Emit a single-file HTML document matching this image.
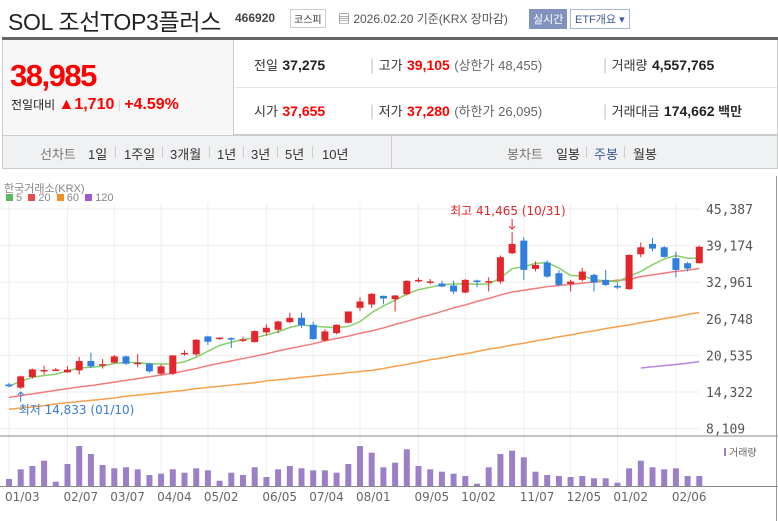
<!DOCTYPE html>
<html><head><meta charset="utf-8">
<style>
*{margin:0;padding:0;box-sizing:border-box}
body{width:778px;height:521px;background:#fff;font-family:"Liberation Sans","Noto Sans CJK KR",sans-serif;position:relative;overflow:hidden;color:#333}
.abs{position:absolute;white-space:nowrap}
.lbl{font-size:13px;color:#333}
.val{font-size:14px;font-weight:bold;color:#222}
.sub{font-size:13px;color:#666}
.sep{color:#ccc}
.nv{position:absolute;top:144px;font-size:13px;color:#333;white-space:nowrap}
.nd{position:absolute;top:146px;width:1px;height:12px;background:#ccc}
</style></head><body>
<div class="abs" style="left:8px;top:3px;font-size:23px;color:#222;letter-spacing:-0.3px">SOL 조선TOP3플러스</div>
<div class="abs" style="left:235px;top:11px;font-size:12px;font-weight:bold;color:#444">466920</div>
<div class="abs" style="left:290px;top:9px;font-size:10px;border:1px solid #ccc;padding:1px 3px;color:#333">코스피</div>
<div class="abs" style="left:338px;top:10px;font-size:12px;color:#555">▤ 2026.02.20 기준(KRX 장마감)</div>
<div class="abs" style="left:529px;top:9px;font-size:11px;background:#8092bd;color:#fff;padding:2px 4px">실시간</div>
<div class="abs" style="left:570px;top:9px;font-size:11px;border:1px solid #a9b7d9;color:#3d5a99;padding:1px 4px">ETF개요 ▾</div>
<div class="abs" style="left:2px;top:37px;width:776px;height:3px;background:#666"></div>
<div class="abs" style="left:2px;top:40px;width:776px;height:95px;border-bottom:1px solid #ccc;border-right:1px solid #ccc"></div>
<div class="abs" style="left:2px;top:40px;width:232px;height:95px;background:#f7f7f7;border-right:1px solid #ccc;border-left:1px solid #ccc"></div>
<div class="abs" style="left:10px;top:58px;font-size:31px;font-weight:bold;color:#f00;letter-spacing:-1.5px">38,985</div>
<div class="abs" style="left:11px;top:96px;font-size:12px;color:#222">전일대비 <span style="color:#f00;font-size:16px;font-weight:bold">▲1,710</span> <span class="sep">|</span> <span style="color:#f00;font-size:16px;font-weight:bold">+4.59%</span></div>
<div class="abs" style="left:235px;top:87px;width:542px;height:1px;background:#e5e5e5"></div>
<div class="abs" style="left:254px;top:55px"><span class="lbl">전일</span> <span class="val">37,275</span></div>
<div class="abs" style="left:254px;top:101px"><span class="lbl">시가</span> <span class="val" style="color:#f00">37,655</span></div>
<div class="abs" style="left:370px;top:55px"><span class="sep">|</span> <span class="lbl">고가</span> <span class="val" style="color:#f00">39,105</span> <span class="sub">(상한가 48,455)</span></div>
<div class="abs" style="left:370px;top:101px"><span class="sep">|</span> <span class="lbl">저가</span> <span class="val" style="color:#f00">37,280</span> <span class="sub">(하한가 26,095)</span></div>
<div class="abs" style="left:603px;top:55px"><span class="sep">|</span> <span class="lbl">거래량</span> <span class="val">4,557,765</span></div>
<div class="abs" style="left:603px;top:101px"><span class="sep">|</span> <span class="lbl">거래대금</span> <span class="val">174,662</span><span class="lbl" style="font-weight:bold"> 백만</span></div>
<div class="abs" style="left:2px;top:135px;width:776px;height:34px;background:#f0f1f3;border:1px solid #ccc"></div>
<div class="abs" style="left:391px;top:136px;width:1px;height:32px;background:#ccc"></div>
<div class="nv" style="left:40px;color:#777">선차트</div>
<div class="nv" style="left:88px">1일</div>
<div class="nd" style="left:115px"></div>
<div class="nv" style="left:124px">1주일</div>
<div class="nd" style="left:162px"></div>
<div class="nv" style="left:170px">3개월</div>
<div class="nd" style="left:209px"></div>
<div class="nv" style="left:217px">1년</div>
<div class="nd" style="left:243px"></div>
<div class="nv" style="left:251px">3년</div>
<div class="nd" style="left:277px"></div>
<div class="nv" style="left:285px">5년</div>
<div class="nd" style="left:312px"></div>
<div class="nv" style="left:322px">10년</div>
<div class="nv" style="left:507px;color:#777">봉차트</div>
<div class="nv" style="left:556px">일봉</div>
<div class="nd" style="left:586px"></div>
<div class="nv" style="left:594px;color:#3d5a99">주봉</div>
<div class="nd" style="left:624px"></div>
<div class="nv" style="left:633px">월봉</div>
<div class="abs" style="left:4px;top:180px;font-size:11px;color:#888">한국거래소(KRX)</div>
<div class="abs" style="left:6px;top:192px;font-size:11px;color:#888">
<span style="display:inline-block;width:7px;height:7px;background:#5cb85c"></span> 5 &nbsp;<span style="display:inline-block;width:7px;height:7px;background:#e84c4c"></span> 20 &nbsp;<span style="display:inline-block;width:7px;height:7px;background:#f0902c"></span> 60 &nbsp;<span style="display:inline-block;width:7px;height:7px;background:#a05ad0"></span> 120</div>
<svg id="chart" class="abs" style="left:0;top:0" width="778" height="521"></svg>
<script>
const dates=["01/03","02/07","03/07","04/04","05/02","06/05","07/04","08/01","09/05","10/02","11/07","12/05","01/02","02/06"];
const dateIdx=[0,5,9,13,17,22,26,30,35,39,44,48,52,57];
const opens=[15600,15060,16868,17900,18050,17658,17997,19578,18950,19296,20369,19200,19127,17433,17433,20850,20708,23757,23400,23475,23150,22797,24435,24885,26185,26920,25734,23080,24322,26072,28614,29178,30646,30077,30925,33200,33000,32733,32394,31207,33250,33000,33072,37874,40022,35219,36293,34484,32677,33354,34202,33354,32337,31772,37705,39457,38892,37027,36180,36180];
const highs=[15900,17100,18300,18800,18400,18700,20300,21000,19900,20600,20500,20800,19300,19000,20538,21400,23300,23900,23600,23600,23700,24800,25800,26400,27800,27800,26300,25000,25800,28000,30400,31100,30700,30800,33300,33700,33500,33200,33200,33500,33400,33806,37500,41465,40587,36500,36700,35000,33354,35400,34400,35049,32900,37700,39700,40500,39100,38157,36400,39174];
const lows=[15100,14833,16600,17300,17900,17600,17300,18400,18300,19200,18900,18500,17600,17200,17200,20500,20400,22300,23200,21800,22800,22700,23900,24300,26000,25200,23200,22900,24100,26000,28100,28600,29200,27987,30700,32900,32600,32100,31000,31100,32100,31377,32700,37700,33354,34800,33700,32300,31377,33100,31377,32300,31800,31700,37200,38200,37100,33806,34800,36180];
const closes=[15300,16981,18166,18050,18150,18110,19578,18675,19050,20369,19127,19300,17828,18675,20538,20950,23193,22853,23550,23300,23250,24661,25225,26298,26920,25621,23306,24605,25734,27992,29687,30985,30195,30699,33185,33350,33100,32224,31377,33354,33150,33150,37197,39457,35049,35897,33919,32507,33072,34767,32902,32507,32055,37592,38892,38665,37253,35049,35276,38985];
const ma20=[13.4,13.7,14.0,14.3,14.6,14.9,15.2,15.4,15.7,16.0,16.3,16.6,16.9,17.2,17.5,17.9,18.3,18.8,19.2,19.6,20.0,20.4,20.8,21.3,21.7,22.1,22.5,23.0,23.4,23.8,24.3,24.7,25.2,25.8,26.3,26.9,27.4,28.0,28.6,29.1,29.7,30.2,30.8,31.3,31.6,31.9,32.2,32.4,32.6,32.8,33.0,33.1,33.3,33.4,33.9,34.2,34.5,34.8,35.0,35.3];
const ma60=[11.4,11.6,11.8,12.0,12.3,12.5,12.7,12.9,13.1,13.3,13.6,13.8,14.0,14.2,14.4,14.6,14.9,15.1,15.3,15.5,15.7,15.9,16.2,16.4,16.6,16.8,17.0,17.2,17.4,17.6,17.8,18.0,18.3,18.7,19.0,19.4,19.8,20.1,20.5,20.8,21.2,21.6,21.9,22.3,22.6,23.0,23.3,23.7,24.0,24.4,24.7,25.1,25.4,25.7,26.1,26.4,26.8,27.1,27.5,27.8];
const ma120=[null,null,null,null,null,null,null,null,null,null,null,null,null,null,null,null,null,null,null,null,null,null,null,null,null,null,null,null,null,null,null,null,null,null,null,null,null,null,null,null,null,null,null,null,null,null,null,null,null,null,null,null,null,null,18.4,18.6,18.8,19.0,19.2,19.5];
const volumes=[7,16.7,20,25.3,4.3,22,40,32,21,17.7,18.7,16.7,11,12.3,16.7,13.3,17.7,15.7,5.3,13.3,11,18.7,9,16.7,20,17.7,15.7,15.7,13.3,22,40,33.3,18.7,23.3,36.7,20,16.7,14.3,12.3,10,2.3,18.7,32,35.3,28.7,14.3,11,10,9,10,7.7,7.7,3.3,17.7,25.3,18.7,16.7,17.7,10,10];
const yTicks=[45387,39174,32961,26748,20535,14322,8109];

const NS="http://www.w3.org/2000/svg";
const svg=document.getElementById('chart');
const X=i=>9+i*11.7;
const Y=v=>209+(45387-v)/6213*36.6;
const VY=v=>486-v/40*40;
function mk(tag,attrs,parent){const e=document.createElementNS(NS,tag);for(const k in attrs)e.setAttribute(k,attrs[k]);(parent||svg).appendChild(e);return e;}

yTicks.forEach((t,i)=>{
  const g=mk('line',{x1:0,x2:700,y1:Y(t),y2:Y(t),stroke:'#eeeeee'});
  
  
  const tx=mk('text',{x:706,y:Y(t)+5,'font-size':13,fill:'#555','font-family':'DejaVu Sans Mono, Liberation Mono, monospace'});
  tx.textContent=t.toLocaleString('en-US');
  
  
});
dateIdx.forEach((d,i)=>{
  const g=mk('line',{x1:X(d),x2:X(d),y1:203,y2:486,stroke:'#eeeeee'});
  
  
  const tx=mk('text',{x:X(d)-4,y:501,'font-size':12,fill:'#666','font-family':'DejaVu Sans, Liberation Sans, sans-serif'});
  tx.textContent=dates[i];
  
  
});
let pl=mk('line',{x1:0,x2:778,y1:436,y2:436,stroke:'#888'});


pl=mk('line',{x1:0,x2:778,y1:486.5,y2:486.5,stroke:'#888'});


pl=mk('line',{x1:776.5,x2:776.5,y1:176,y2:521,stroke:'#999'});



function line(arr,scale,color,name){
  let d='';arr.forEach((v,i)=>{if(v==null)return;d+=(d?'L':'M')+X(i)+','+Y(v*scale);});
  const p=mk('path',{d:d,fill:'none',stroke:color,'stroke-width':1.5});
  
  
}
const ma5=closes.map((c,i)=>{const s=closes.slice(Math.max(0,i-4),i+1);return s.reduce((a,b)=>a+b,0)/s.length;});
line(ma60,1000,'#f7a04b','ma60-line');
line(ma120,1000,'#b983e6','ma120-line');
line(ma20,1000,'#f47b7b','ma20-line');
line(ma5,1,'#86cf6a','ma5-line');

opens.forEach((o,i)=>{
  const c=closes[i],up=c>=o,col=up?'#e3262b':'#2f7ee0';
  const w=mk('line',{x1:X(i),x2:X(i),y1:Y(highs[i]),y2:Y(lows[i]),stroke:col,'stroke-width':1});
  
  
  const top=Y(Math.max(o,c)),h=Math.max(1.5,Math.abs(Y(o)-Y(c)));
  const b=mk('rect',{x:X(i)-3.5,y:top,width:7,height:h,fill:col});
  
  
});
volumes.forEach((v,i)=>{
  const r=mk('rect',{x:X(i)-3,y:VY(v),width:6,height:486-VY(v),fill:'#9b80c8'});
  
  
});
let hi=highs.indexOf(Math.max(...highs)),lo=lows.indexOf(Math.min(...lows));
let t=mk('text',{x:X(hi)-62,y:215,'font-size':12,fill:'#e3262b','font-family':'DejaVu Sans, Liberation Sans, sans-serif'});
t.textContent='최고 '+highs[hi].toLocaleString('en-US')+' (10/31)';


t=mk('path',{d:`M${X(hi)},219V${Y(highs[hi])-3}M${X(hi)-3},${Y(highs[hi])-6}L${X(hi)},${Y(highs[hi])-3}L${X(hi)+3},${Y(highs[hi])-6}`,stroke:'#e3262b',fill:'none'});


t=mk('text',{x:X(lo)-2,y:414,'font-size':12,fill:'#3a7bd5','font-family':'DejaVu Sans, Liberation Sans, sans-serif'});
t.textContent='최저 '+lows[lo].toLocaleString('en-US')+' (01/10)';


t=mk('path',{d:`M${X(lo)},402V${Y(lows[lo])+3}M${X(lo)-3},${Y(lows[lo])+6}L${X(lo)},${Y(lows[lo])+3}L${X(lo)+3},${Y(lows[lo])+6}`,stroke:'#3a7bd5',fill:'none'});


t=mk('rect',{x:724,y:448,width:2,height:8,fill:'#9b80c8'});


t=mk('text',{x:729,y:456,'font-size':10,fill:'#666','font-family':'Liberation Sans, Noto Sans CJK KR, sans-serif'});
t.textContent='거래량';


</script>
</body></html>
